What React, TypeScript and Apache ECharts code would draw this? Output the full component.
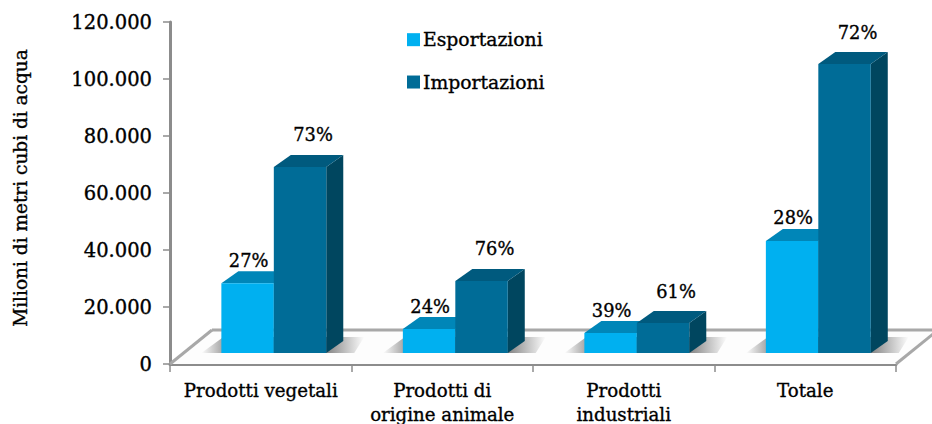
import React, { useEffect, useRef } from "react";
import * as echarts from "echarts";

const categories = ["Prodotti vegetali", "Prodotti di\norigine animale", "Prodotti\nindustriali", "Totale"];
const esportazioni = [24500, 8400, 7000, 39300];
const importazioni = [65300, 25300, 10500, 101400];
const esportazioniPct = ["27%", "24%", "39%", "28%"];
const importazioniPct = ["73%", "76%", "61%", "72%"];
const yTicks = { min: 0, max: 120000, interval: 20000 };

const FONT = "DejaVu Serif";
const DX = 17;
const DY = -12;
const LIFT = -11;
const HEAVY = { textBorderColor: "#000", textBorderWidth: 0.35 };

function bar3d(colors: { front: string; top: string; side: string }, slot: number, pct: string[], labelDx: number, labelDy: number) {
  return (params: any, api: any) => {
    const i = api.value(0);
    const base = api.coord([i, 0]);
    const top = api.coord([i, api.value(1)]);
    const band = api.size([1, 0])[0];
    const w = band * 0.289;
    const x0 = base[0] + band * 0.072 + (slot - 1) * w;
    const x1 = x0 + w;
    const yb = base[1] + LIFT;
    const yt = top[1] + LIFT;
    const shadowFill = new echarts.graphic.LinearGradient(0, 0, 1, 0, [
      { offset: 0, color: "rgba(80,80,80,0)" },
      { offset: 0.22, color: "rgba(80,80,80,0.85)" },
      { offset: 0.72, color: "rgba(80,80,80,0.85)" },
      { offset: 1, color: "rgba(80,80,80,0)" },
    ]);
    return {
      type: "group",
      children: [
        ...(slot === 0
          ? [{
              type: "polygon",
              shape: { points: [[x0 - 20, yb], [x1 + w + 28, yb], [x1 + w + 38, yb + DY - 4], [x0 + 2, yb + DY - 4]] },
              style: { fill: shadowFill },
            }]
          : []),
        {
          type: "polygon",
          shape: { points: [[x1, yb], [x1 + DX, yb + DY], [x1 + DX, yt + DY], [x1, yt]] },
          style: { fill: colors.side },
        },
        {
          type: "polygon",
          shape: { points: [[x0, yt], [x0 + DX, yt + DY], [x1 + DX, yt + DY], [x1, yt]] },
          style: { fill: colors.top },
        },
        {
          type: "rect",
          shape: { x: x0, y: yt, width: w, height: yb - yt },
          style: { fill: colors.front },
        },
        {
          type: "text",
          z2: 20,
          style: {
            x: (x0 + x1) / 2 + labelDx,
            y: yt + DY + labelDy,
            text: pct[i],
            fill: "#000",
            stroke: "#000",
            lineWidth: 0.35,
            font: `17.8px "${FONT}"`,
            align: "center",
            verticalAlign: "bottom",
          },
        },
      ],
    };
  };
}

function floor(params: any, api: any) {
  const c = params.coordSys;
  const l = c.x;
  const r = c.x + c.width;
  const b = c.y + c.height;
  const d = 42;
  const h = 34;
  return {
    type: "group",
    children: [
      {
        type: "polygon",
        shape: { points: [[l, b], [l + d, b - h], [r + d, b - h], [r, b]] },
        style: { fill: "#fdfdfd" },
      },
      { type: "line", shape: { x1: l + d, y1: b - h, x2: r + d, y2: b - h }, style: { stroke: "#a8a8a8", lineWidth: 3 } },
      { type: "line", shape: { x1: l, y1: b, x2: l + d, y2: b - h }, style: { stroke: "#a8a8a8", lineWidth: 3 } },
      { type: "line", shape: { x1: r, y1: b, x2: r + d, y2: b - h }, style: { stroke: "#a8a8a8", lineWidth: 3 } },
    ],
  };
}

export default function App() {
  const ref = useRef<HTMLDivElement>(null);
  useEffect(() => {
    const chart = echarts.init(ref.current!, undefined, { renderer: "svg" });
    chart.setOption({
      animation: false,
      backgroundColor: "#fff",
      textStyle: { fontFamily: FONT },
      grid: { left: 170, right: 36, top: 22, bottom: 60, outerBoundsMode: "none" },
      legend: {
        left: 402,
        top: 25,
        orient: "vertical",
        itemGap: 23,
        itemWidth: 13,
        itemHeight: 13,
        icon: "rect",
        data: ["Esportazioni", "Importazioni"],
        textStyle: { fontFamily: FONT, fontSize: 18.8, color: "#000", padding: [0, 0, 0, -2], ...HEAVY },
      },
      xAxis: {
        type: "category",
        data: categories,
        axisLine: { lineStyle: { color: "#8c8c8c", width: 3 } },
        axisTick: { show: true, length: 8, lineStyle: { color: "#8c8c8c", width: 1.5 } },
        axisLabel: { fontFamily: FONT, fontSize: 18.2, color: "#000", margin: 14, lineHeight: 24, interval: 0, ...HEAVY },
      },
      yAxis: {
        type: "value",
        ...yTicks,
        name: "Milioni di metri cubi di acqua",
        nameLocation: "middle",
        nameGap: 140,
        nameTextStyle: { fontFamily: FONT, fontSize: 18.5, color: "#000", padding: [0, 0, 0, 10], ...HEAVY },
        splitLine: { show: false },
        axisLine: { show: true, lineStyle: { color: "#8c8c8c", width: 3 } },
        axisTick: { show: true, length: 7, lineStyle: { color: "#8c8c8c", width: 1.5 } },
        axisLabel: {
          fontFamily: FONT,
          fontSize: 19.5,
          color: "#000",
          margin: 18,
          ...HEAVY,
          formatter: (v: number) => String(v).replace(/\B(?=(\d{3})+$)/g, "."),
        },
      },
      series: [
        {
          name: "floor",
          type: "custom",
          renderItem: floor,
          data: [[0, 0]],
          clip: false,
          silent: true,
          z: 1,
        },
        {
          name: "Esportazioni",
          type: "custom",
          renderItem: bar3d({ front: "#00b0f0", top: "#0086b8", side: "#006c97" }, 0, esportazioniPct, 1, -2),
          data: esportazioni.map((v, i) => [i, v]),
          itemStyle: { color: "#00b0f0" },
          z: 2,
        },
        {
          name: "Importazioni",
          type: "custom",
          renderItem: bar3d({ front: "#006c97", top: "#005a7e", side: "#00465f" }, 1, importazioniPct, 13, -11),
          data: importazioni.map((v, i) => [i, v]),
          itemStyle: { color: "#006c97" },
          z: 3,
        },
      ],
    });
    return () => chart.dispose();
  }, []);
  return <div ref={ref} style={{ position: "absolute", left: 0, top: 0, width: 932, height: 424 }} />;
}
